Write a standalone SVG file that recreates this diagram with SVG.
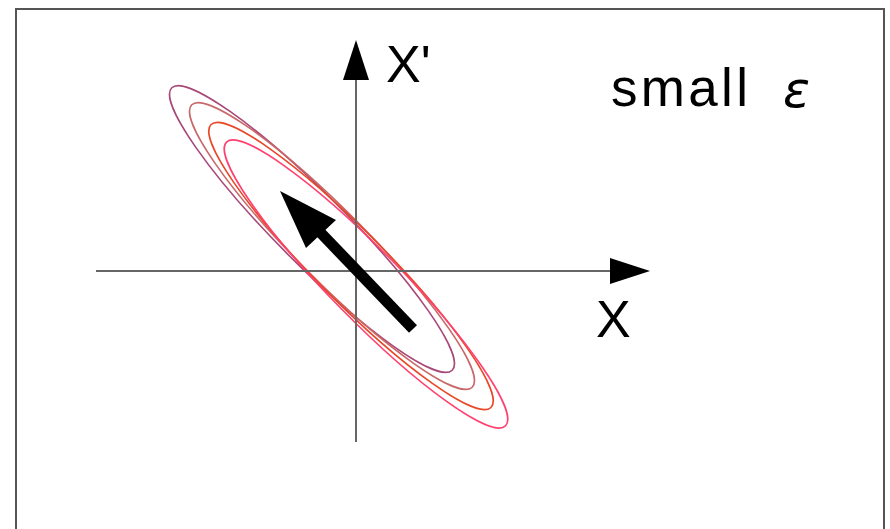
<svg xmlns="http://www.w3.org/2000/svg" width="890" height="529" viewBox="0 0 890 529">
<style>
.frame{fill:none;stroke:#555;stroke-width:2}
.axis{stroke:#666;stroke-width:2;fill:none}
.head{fill:#000}
.ell{fill:none;stroke-width:1.6}
.lbl{font-family:"Liberation Sans",Arial,sans-serif;fill:#000}
</style>
<rect width="890" height="529" fill="#fff"/>
<path class="frame" d="M16,540 V9 H884 V540"/>
<g id="contours">
<ellipse class="ell" cx="312" cy="229" rx="199" ry="35" stroke="#a84878" transform="rotate(45.2 312 229)"/>
<ellipse class="ell" cx="332" cy="246" rx="199" ry="35" stroke="#c86868" transform="rotate(45.2 332 246)"/>
<ellipse class="ell" cx="351" cy="266" rx="199" ry="35" stroke="#e84828" transform="rotate(45.3 351 266)"/>
<ellipse class="ell" cx="366" cy="284" rx="199" ry="35" stroke="#ff4070" transform="rotate(45.5 366 284)"/>
</g>
<g id="connectors">
<g id="x-axis">
<line class="axis" x1="96" y1="271" x2="612" y2="271"/>
<polygon class="head" points="610,258 650,271 610,284"/>
</g>
<g id="xp-axis">
<line class="axis" x1="356" y1="442" x2="356" y2="78"/>
<polygon class="head" points="343,80 356,40 369,80"/>
</g>
<g id="motion-arrow">
<line x1="413" y1="329" x2="318" y2="230" stroke="#000" stroke-width="11"/>
<polygon class="head" points="280,191 336,220 306,248"/>
</g>
</g>
<g id="label-xp"><text class="lbl" x="386" y="82" font-size="52">X'</text></g>
<g id="label-x"><text class="lbl" x="596" y="337" font-size="52">X</text></g>
<g id="label-eps">
<text class="lbl" x="611" y="106" font-size="53" textLength="137" lengthAdjust="spacing">small</text>
<text x="783" y="107" font-size="50" font-style="italic" font-family="'DejaVu Sans','Liberation Sans',sans-serif" fill="#000">ε</text>
</g>
</svg>
